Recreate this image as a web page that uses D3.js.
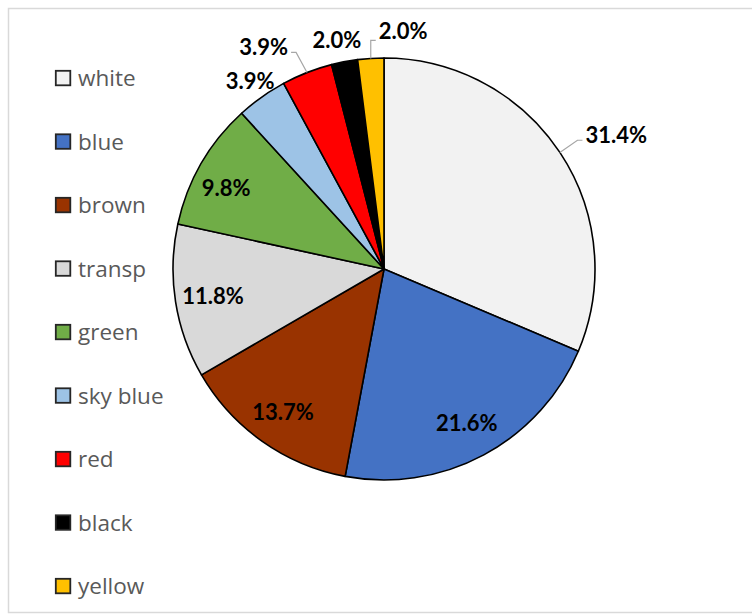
<!DOCTYPE html>
<html>
<head>
<meta charset="utf-8">
<script src="https://cdn.jsdelivr.net/npm/d3@7"></script>
<style>
  body { margin: 0; background: #fff; }
  svg { display: block; }
</style>
</head>
<body>
<svg id="pie-chart"></svg>
<script>
// chart data
const categories = ["white", "blue", "brown", "transp", "green", "sky blue", "red", "black", "yellow"];
const shares = [31.4, 21.6, 13.7, 11.8, 9.8, 3.9, 3.9, 2.0, 2.0];
const sliceColors = ["#f2f2f2", "#4472c4", "#993300", "#d9d9d9", "#70ad47", "#9dc3e6", "#ff0000", "#000000", "#ffc000"];

// label placement (radius as fraction of pie radius, angle nudge in degrees, leader line)
const labelRadius = [1.27, 0.83, 0.83, 0.82, 0.84, 1.095, 1.195, 1.11, 1.13];
const labelNudge = [3.6, 0, 0, 0, -2.9, 0, -7.1, -0.8, 8.2];
const hasLeader = [true, false, false, false, false, false, true, false, true];

const dimensions = { width: 752, height: 615 };
const center = { x: 384, y: 269 };
const radius = 211;

const svg = d3.select("#pie-chart")
    .attr("width", dimensions.width)
    .attr("height", dimensions.height);

// chart area frame
svg.append("rect")
    .attr("x", 8.5)
    .attr("y", 8.5)
    .attr("width", 780)
    .attr("height", 604)
    .attr("fill", "#fff")
    .attr("stroke", "#d9d9d9")
    .attr("stroke-width", 1.5);

const data = categories.map((c, i) => ({ name: c, value: shares[i], index: i }));

const colorScale = d3.scaleOrdinal()
    .domain(categories)
    .range(sliceColors);

const pie = d3.pie()
    .value(d => d.value)
    .sort(null);

const arcs = pie(data);

const arc = d3.arc()
    .innerRadius(0)
    .outerRadius(radius);

const g = svg.append("g")
    .attr("transform", `translate(${center.x}, ${center.y})`);

g.selectAll("path.slice")
    .data(arcs)
    .enter()
    .append("path")
    .attr("class", "slice")
    .attr("d", arc)
    .attr("fill", d => colorScale(d.data.name))
    .attr("stroke", "#000")
    .attr("stroke-width", 1.6)
    .attr("stroke-linejoin", "round");

// polar helper, angle measured clockwise from 12 o'clock
function polar(angle, r) {
    return [Math.sin(angle) * r, -Math.cos(angle) * r];
}

const labels = g.selectAll("text.pct")
    .data(arcs)
    .enter()
    .append("text")
    .attr("class", "pct")
    .each(function (d) {
        const i = d.data.index;
        const mid = (d.startAngle + d.endAngle) / 2 + labelNudge[i] * Math.PI / 180;
        const p = polar(mid, radius * labelRadius[i]);
        d.lx = p[0];
        d.ly = p[1];
    })
    .attr("x", d => d.lx)
    .attr("y", d => d.ly)
    .attr("dy", "0.36em")
    .attr("text-anchor", "middle")
    .style("font-family", "Lato, 'Open Sans', sans-serif")
    .style("font-weight", "bold")
    .style("font-size", "22px")
    .style("fill", "#000")
    .text(d => d.value.toFixed(1) + "%");

// leader lines for the outside labels
labels.each(function (d) {
    const i = d.data.index;
    if (!hasLeader[i]) return;
    const w = this.getComputedTextLength();
    const mid = (d.startAngle + d.endAngle) / 2;
    const p0 = polar(mid, radius);
    const onRight = d.lx > p0[0];
    const edge = onRight ? d.lx - w / 2 - 3 : d.lx + w / 2 + 3;
    const yk = d.ly + (i === 8 ? 9 : 5);
    const p2 = [edge, yk];
    const p1 = [onRight ? edge - 5 : edge + 5, yk];
    g.append("polyline")
        .attr("points", [p0, p1, p2].map(p => p.join(",")).join(" "))
        .attr("fill", "none")
        .attr("stroke", "#a6a6a6")
        .attr("stroke-width", 1.2);
});

// legend
const legendScale = d3.scalePoint()
    .domain(categories)
    .range([78, 586]);

const legend = svg.selectAll(".legend")
    .data(categories)
    .enter()
    .append("g")
    .attr("class", "legend")
    .attr("transform", d => `translate(55, ${legendScale(d)})`);

legend.append("rect")
    .attr("x", 0.8)
    .attr("y", -7.2)
    .attr("width", 14.5)
    .attr("height", 14.5)
    .attr("fill", d => colorScale(d))
    .attr("stroke", "#262626")
    .attr("stroke-width", 1.8);

legend.append("text")
    .attr("x", 23)
    .attr("y", 0)
    .attr("dy", "0.36em")
    .style("font-family", "'Open Sans', Lato, sans-serif")
    .style("font-size", "22.5px")
    .style("fill", "#595959")
    .text(d => d);
</script>
</body>
</html>
